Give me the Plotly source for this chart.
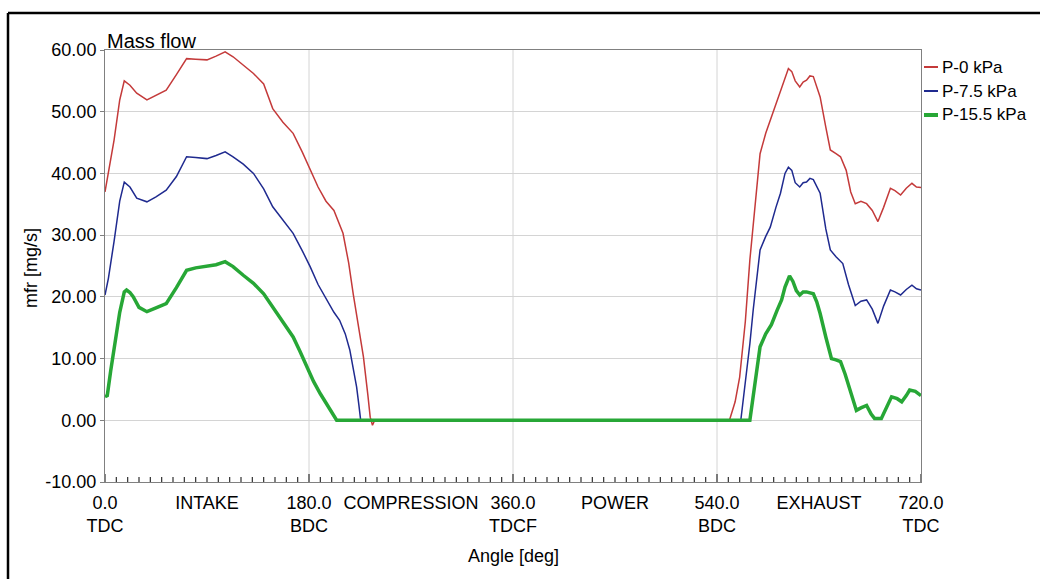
import plotly.graph_objects as go

# ---------------- data ----------------
red_x = [0, 3, 8, 13, 17, 22, 28, 37, 45, 54, 63, 72, 80, 90, 98, 106, 113, 122, 131, 140,
         148, 157, 166, 174, 181, 188, 195, 202, 210, 215, 219, 224, 228, 232, 234, 236, 238,
         551, 556, 560, 565, 569, 574, 578, 583, 587, 592, 596, 600, 603, 606, 609, 613, 616,
         619, 622, 625, 628, 631, 636, 640, 645, 649, 654, 658, 662, 667, 672, 677, 682, 687,
         693, 697, 702, 707, 712, 716, 720]
red_y = [37.0, 40.0, 45.4, 51.9, 55.0, 54.3, 53.0, 51.9, 52.6, 53.5, 56.0, 58.6, 58.5, 58.4,
         59.0, 59.7, 58.9, 57.5, 56.2, 54.5, 50.5, 48.3, 46.5, 43.5, 40.5, 37.8, 35.5, 34.0,
         30.3, 25.5, 20.5, 15.0, 10.3, 4.0, 0.5, -0.8, 0.0,
         0.0, 3.0, 7.0, 16.0, 26.0, 36.0, 43.2, 46.5, 48.6, 51.5, 53.5, 55.5, 57.0, 56.5, 55.0,
         54.0, 54.8, 55.1, 55.8, 55.7, 54.0, 52.4, 47.5, 43.8, 43.2, 42.7, 40.5, 37.0, 35.1,
         35.5, 35.1, 34.0, 32.2, 34.5, 37.6, 37.2, 36.5, 37.6, 38.4, 37.8, 37.7]

blue_x = [0, 3, 8, 13, 17, 22, 28, 37, 45, 54, 63, 72, 80, 90, 98, 106, 113, 122, 131, 140,
          148, 157, 166, 174, 181, 188, 196, 202, 207, 212, 216, 219, 222, 224, 225.6,
          561, 565, 569, 572, 575, 578, 583, 587, 592, 596, 600, 603, 606, 609, 613, 616, 619,
          622, 625, 628, 631, 636, 640, 645, 651, 656, 662, 667, 672, 677, 682, 687, 693, 697,
          702, 707, 712, 716, 720]
blue_y = [20.3, 23.0, 29.0, 35.5, 38.6, 37.8, 36.0, 35.4, 36.2, 37.3, 39.5, 42.7, 42.6, 42.4,
          42.9, 43.5, 42.7, 41.5, 40.0, 37.5, 34.6, 32.5, 30.3, 27.5, 24.9, 22.0, 19.5, 17.5,
          16.2, 14.0, 11.4, 8.5, 5.4, 2.5, 0.0,
          0.0, 6.0, 12.4, 18.0, 23.2, 27.6, 29.8, 31.3, 34.5, 36.8, 40.0, 41.0, 40.5, 38.5,
          37.8, 38.5, 38.6, 39.2, 39.0, 38.0, 36.8, 31.0, 27.6, 26.5, 25.4, 22.0, 18.6, 19.3,
          19.5, 18.0, 15.7, 18.5, 21.1, 20.8, 20.3, 21.2, 21.9, 21.3, 21.1]

green_x = [0, 2, 5, 9, 13, 17, 19, 22, 25, 30, 37, 45, 54, 63, 72, 80, 90, 98, 106, 113, 122,
           131, 140, 148, 157, 166, 172, 178, 184, 190, 195, 198.5, 204.4,
           569, 572, 575, 578, 583, 588, 593, 597, 600, 604, 607, 610, 613, 616, 619, 622, 625,
           628, 631, 636, 641, 645, 649, 653, 658, 663, 667, 672, 676, 679, 685, 689, 694, 699,
           703, 707, 710, 715, 720]
green_y = [3.8, 4.0, 8.0, 13.0, 17.5, 20.8, 21.1, 20.7, 20.0, 18.3, 17.6, 18.2, 18.9, 21.5,
           24.3, 24.7, 24.9, 25.2, 25.7, 24.9, 23.5, 22.2, 20.5, 18.4, 16.0, 13.5, 11.2, 8.6,
           6.3, 4.3, 2.8, 1.6, 0.0,
           0.0, 4.3, 8.5, 11.9, 14.0, 15.5, 17.8, 19.5, 21.6, 23.4, 22.5, 21.0, 20.3, 20.8,
           20.8, 20.6, 20.5, 19.2, 17.3, 13.5, 10.0, 9.8, 9.5, 7.5, 4.5, 1.6, 2.0, 2.4, 1.0,
           0.3, 0.3, 2.0, 3.8, 3.5, 3.0, 4.0, 4.9, 4.7, 4.0]

series_names = ["P-0 kPa", "P-7.5 kPa", "P-15.5 kPa"]
series_colors = ["#c43a3a", "#1f2a8f", "#27a736"]
series_widths = [1.5, 1.5, 3.5]

x_tickvals = [0, 90, 180, 270, 360, 450, 540, 630, 720]
x_ticktext = ["0.0<br>TDC", "INTAKE", "180.0<br>BDC", "COMPRESSION", "360.0<br>TDCF",
              "POWER", "540.0<br>BDC", "EXHAUST", "720.0<br>TDC"]
x_gridvals = [180, 360, 540]
x_minor_step = 10

y_tickvals = [-10, 0, 10, 20, 30, 40, 50, 60]
y_ticktext = ["-10.00", "0.00", "10.00", "20.00", "30.00", "40.00", "50.00", "60.00"]

# ---------------- layout geometry ----------------
W, H = 1040, 579
L, R, T, B = 105, 921, 50, 482


def px2x(px):
    return (px - L) / (R - L)


def px2y(py):
    return (B - py) / (B - T)


FONT = "Liberation Sans, Arial, sans-serif"

fig = go.Figure()
xs = [red_x, blue_x, green_x]
ys = [red_y, blue_y, green_y]
for i in [0, 1, 2]:
    fig.add_trace(go.Scatter(x=xs[i], y=ys[i], mode="lines", name=series_names[i],
                             line=dict(color=series_colors[i], width=series_widths[i]),
                             showlegend=False))

shapes = []
for gv in x_gridvals:
    shapes.append(dict(type="line", xref="x", yref="paper", x0=gv, x1=gv, y0=0, y1=1,
                       line=dict(color="#d4d4d4", width=1), layer="below"))
# tick marks along the bottom edge (inside), longer at the stroke boundaries
for tv in range(0, 721, x_minor_step):
    top = 474 if tv % 180 == 0 else 477
    shapes.append(dict(type="line", xref="x", yref="paper", x0=tv, x1=tv, y0=0, y1=px2y(top),
                       line=dict(color="#303030", width=1.2)))

# outer frame (top and left edges visible)
shapes.append(dict(type="line", xref="paper", yref="paper", x0=px2x(8), x1=px2x(W + 5),
                   y0=px2y(13), y1=px2y(13), line=dict(color="black", width=2.5)))
shapes.append(dict(type="line", xref="paper", yref="paper", x0=px2x(8), x1=px2x(8),
                   y0=px2y(13), y1=px2y(H + 5), line=dict(color="black", width=2.5)))

annotations = []
# legend (manual)
leg_y = [67, 91, 115]
for i in range(3):
    shapes.append(dict(type="line", xref="paper", yref="paper", x0=px2x(924), x1=px2x(938),
                       y0=px2y(leg_y[i]), y1=px2y(leg_y[i]),
                       line=dict(color=series_colors[i], width=series_widths[i] + 0.5)))
    annotations.append(dict(xref="paper", yref="paper", x=px2x(940), y=px2y(leg_y[i]),
                            xanchor="left", yanchor="middle", showarrow=False,
                            text=series_names[i], font=dict(size=17, color="black", family=FONT)))

annotations.append(dict(xref="paper", yref="paper", x=0, y=1, xanchor="left", yanchor="bottom",
                        showarrow=False, text="Mass flow", yshift=-4,
                        font=dict(size=20, color="black", family=FONT)))
annotations.append(dict(xref="paper", yref="paper", x=px2x(31), y=px2y(268), xanchor="center",
                        yanchor="middle", showarrow=False, text="mfr [mg/s]", textangle=-90,
                        font=dict(size=18, color="black", family=FONT)))
annotations.append(dict(xref="paper", yref="paper", x=px2x(513), y=px2y(556), xanchor="center",
                        yanchor="middle", showarrow=False, text="Angle [deg]",
                        font=dict(size=18, color="black", family=FONT)))

fig.update_layout(
    width=W, height=H, autosize=False,
    margin=dict(l=L, r=W - R, t=T, b=H - B, pad=0),
    paper_bgcolor="white", plot_bgcolor="white",
    font=dict(family=FONT, size=18, color="black"),
    shapes=shapes, annotations=annotations,
    xaxis=dict(range=[0, 720], tickmode="array", tickvals=x_tickvals, ticktext=x_ticktext,
               showgrid=False, zeroline=False, showline=True, mirror=True,
               linecolor="#808080", linewidth=1, ticks="", ticklabelstandoff=4,
               tickfont=dict(size=18, family=FONT, color="black")),
    yaxis=dict(range=[-10, 60], tickmode="array", tickvals=y_tickvals, ticktext=y_ticktext,
               showgrid=True, gridcolor="#d4d4d4", gridwidth=1, zeroline=False,
               showline=True, mirror=True, linecolor="#808080", linewidth=1,
               ticks="outside", ticklen=4, tickcolor="#808080",
               tickfont=dict(size=18, family=FONT, color="black")),
)

fig.write_html("out.html")
